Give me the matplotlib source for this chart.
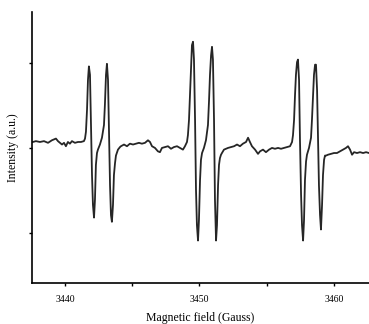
import numpy as np
import matplotlib
matplotlib.use('Agg')
from matplotlib import pyplot as plt

# EPR spectrum: field (G) and intensity (a.u.)
field = [3437.62, 3437.84, 3438.14, 3438.44, 3438.74, 3439.03, 3439.33, 3439.48, 3439.78, 3439.93,
         3440.07, 3440.22, 3440.37, 3440.52, 3440.74, 3440.97, 3441.19, 3441.41, 3441.49,
         3441.56, 3441.64, 3441.71, 3441.78, 3441.86, 3441.93, 3442.01, 3442.08, 3442.16, 3442.23,
         3442.30, 3442.38, 3442.45, 3442.60, 3442.75, 3442.90, 3442.97, 3443.05, 3443.12, 3443.20,
         3443.27, 3443.35, 3443.42, 3443.49, 3443.57, 3443.64, 3443.72, 3443.79, 3443.94, 3444.09,
         3444.16, 3444.39, 3444.61, 3444.83, 3445.06, 3445.28, 3445.50, 3445.72, 3445.95, 3446.17,
         3446.32, 3446.47, 3446.69, 3446.91, 3447.06, 3447.21, 3447.43, 3447.66, 3447.88, 3448.10,
         3448.33, 3448.55, 3448.77, 3448.92, 3449.07, 3449.14,
         3449.22, 3449.29, 3449.37, 3449.44, 3449.52, 3449.59, 3449.67, 3449.74, 3449.81, 3449.89,
         3449.96, 3450.04, 3450.11, 3450.19, 3450.33, 3450.48, 3450.63, 3450.71, 3450.78, 3450.86,
         3450.93, 3451.00, 3451.08, 3451.15, 3451.23, 3451.30, 3451.38, 3451.45, 3451.52, 3451.60,
         3451.67, 3451.82, 3451.97, 3452.12, 3452.34, 3452.57, 3452.79, 3453.01, 3453.23, 3453.46,
         3453.61, 3453.75, 3453.90, 3454.13, 3454.35, 3454.50, 3454.72, 3454.94, 3455.17, 3455.39,
         3455.61, 3455.84, 3456.06, 3456.28, 3456.51, 3456.73, 3456.88, 3456.95,
         3457.03, 3457.10, 3457.17, 3457.25, 3457.32, 3457.40, 3457.47, 3457.55, 3457.62, 3457.70,
         3457.77, 3457.84, 3457.92, 3457.99, 3458.14, 3458.29, 3458.36, 3458.44, 3458.51, 3458.59,
         3458.66, 3458.74, 3458.81, 3458.88, 3458.96, 3459.03, 3459.11, 3459.18, 3459.26, 3459.33,
         3459.41, 3459.55, 3459.78, 3460.00, 3460.22, 3460.45, 3460.67, 3460.89, 3461.04, 3461.19,
         3461.34, 3461.49, 3461.71, 3461.93, 3462.16, 3462.38, 3462.60]

intensity = [0.07, 0.08, 0.07, 0.08, 0.06, 0.09, 0.11, 0.08, 0.04, 0.06,
             0.02, 0.07, 0.05, 0.08, 0.06, 0.07, 0.07, 0.08, 0.11,
             0.19, 0.45, 0.80, 0.96, 0.86, 0.33, -0.32, -0.67, -0.82, -0.61,
             -0.20, -0.06, -0.02, 0.04, 0.12, 0.27, 0.51, 0.86, 0.99, 0.80,
             0.21, -0.44, -0.79, -0.87, -0.67, -0.32, -0.18, -0.09, -0.02, 0.01,
             0.02, 0.04, 0.02, 0.05, 0.04, 0.05, 0.06, 0.05, 0.06, 0.09,
             0.07, 0.02, 0.00, -0.04, -0.05, 0.00, 0.01, 0.02, -0.01, 0.01,
             0.02, 0.00, -0.02, 0.02, 0.07, 0.15,
             0.33, 0.62, 0.98, 1.21, 1.25, 1.04, 0.33, -0.49, -0.91, -1.09,
             -0.85, -0.38, -0.14, -0.06, 0.00, 0.09, 0.27, 0.56, 0.86, 1.09,
             1.19, 1.04, 0.33, -0.61, -1.09, -0.91, -0.44, -0.20, -0.12, -0.08,
             -0.06, -0.02, -0.01, 0.00, 0.01, 0.02, 0.04, 0.02, 0.05, 0.07,
             0.12, 0.07, 0.02, -0.02, -0.07, -0.04, -0.02, -0.05, -0.02, 0.00,
             -0.01, 0.00, -0.01, 0.00, 0.01, 0.02, 0.07, 0.15,
             0.33, 0.62, 0.86, 1.01, 1.04, 0.80, 0.09, -0.55, -0.91, -1.09,
             -0.85, -0.38, -0.16, -0.08, 0.00, 0.12, 0.33, 0.62, 0.86, 0.98,
             0.98, 0.68, 0.09, -0.44, -0.79, -0.96, -0.67, -0.32, -0.14, -0.09,
             -0.09, -0.08, -0.07, -0.06, -0.06, -0.04, -0.02, 0.00, 0.02, -0.02,
             -0.08, -0.05, -0.06, -0.05, -0.06, -0.05, -0.06]

xticks_major = [3440, 3450, 3460]
xticks_minor = [3445, 3455]
yticks = [-1, 0, 1]

plt.rcParams['font.family'] = ['Liberation Serif', 'DejaVu Serif']

fig = plt.figure(figsize=(3.69, 3.24), dpi=100)
ax = fig.add_axes([32/369, 1-283/324, 1-32/369, (283-12)/324])

ax.plot(field, intensity, color='#262626', lw=1.3)

ax.set_xlim(3437.55, 3462.6)
ax.set_ylim(-1.59, 1.6)
ax.set_xticks(xticks_major)
ax.set_xticks(xticks_minor, minor=True)
ax.set_yticks(yticks)
ax.set_yticklabels([])
ax.tick_params(axis='both', which='both', direction='out', length=2.5, width=1, labelsize=7, pad=6)

for s in ['top', 'right']:
    ax.spines[s].set_visible(False)
for s in ['left', 'bottom']:
    ax.spines[s].set_linewidth(1.2)

ax.set_xlabel('Magnetic field (Gauss)', fontsize=8.5, labelpad=6)
ax.set_ylabel('Intensity (a.u.)', fontsize=8.5)
ax.yaxis.set_label_coords(-0.039, 0.5)

fig.savefig('out.png', dpi=100)
